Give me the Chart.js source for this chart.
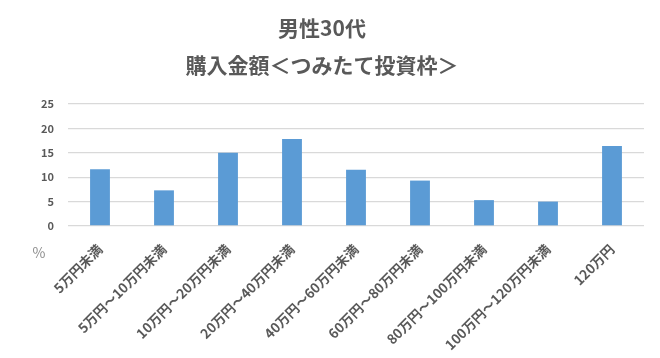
<!DOCTYPE html>
<html>
<head>
<meta charset="utf-8">
<script src="https://cdn.jsdelivr.net/npm/chart.js@4"></script>
<style>
html,body{margin:0;padding:0;background:#fff;}
#wrap{width:660px;height:358px;}
</style>
</head>
<body>
<div id="wrap"><canvas id="c" width="660" height="358"></canvas></div>
<script>
const titleLines = ['男性30代', '購入金額＜つみたて投資枠＞'];
const categories = ['5万円未満', '5万円～10万円未満', '10万円～20万円未満', '20万円～40万円未満', '40万円～60万円未満', '60万円～80万円未満', '80万円～100万円未満', '100万円～120万円未満', '120万円'];
const values = [11.6, 7.3, 15.0, 17.8, 11.5, 9.3, 5.3, 5.0, 16.4];
const yTicks = [0, 5, 10, 15, 20, 25];
const unitLabel = '%';

const FONT = '"Noto Sans CJK JP", "Noto Sans", sans-serif';

const unitPlugin = {
  id: 'unitLabel',
  afterDraw(chart) {
    const ctx = chart.ctx;
    const area = chart.chartArea;
    ctx.save();
    ctx.font = '14px ' + FONT;
    ctx.fillStyle = '#8c8c8c';
    ctx.textAlign = 'center';
    ctx.textBaseline = 'middle';
    ctx.fillText(unitLabel, area.left - 29, area.bottom + 27);
    ctx.restore();
  }
};

new Chart(document.getElementById('c'), {
  type: 'bar',
  data: {
    labels: categories,
    datasets: [{
      data: values,
      backgroundColor: '#5b9bd5',
      borderWidth: 0,
      barPercentage: 0.31,
      categoryPercentage: 1.0
    }]
  },
  options: {
    responsive: false,
    animation: false,
    devicePixelRatio: 1,
    layout: { padding: { left: 0, right: 16, top: 0, bottom: 0 } },
    plugins: {
      legend: { display: false },
      tooltip: { enabled: false },
      title: {
        display: true,
        text: titleLines,
        color: '#595959',
        font: { family: FONT, size: 21, weight: 'bold', lineHeight: 1.76 },
        padding: { top: 10, bottom: 20 }
      }
    },
    scales: {
      x: {
        grid: { display: false },
        border: { display: false },
        ticks: {
          autoSkip: false,
          maxRotation: 45,
          minRotation: 45,
          color: '#595959',
          padding: 7,
          font: { family: FONT, size: 13.5, weight: 'bold' }
        },
        afterFit(scale) { scale.height = 132; }
      },
      y: {
        min: 0,
        max: 25,
        afterBuildTicks(scale) { scale.ticks = yTicks.map(v => ({ value: v })); },
        grid: { color: '#d9d9d9', lineWidth: 1.3, drawTicks: false },
        border: { display: false },
        ticks: {
          color: '#595959',
          padding: 14,
          font: { family: FONT, size: 11, weight: 'bold' }
        },
        afterFit(scale) { scale.width = 68; }
      }
    }
  },
  plugins: [unitPlugin]
});
</script>
</body>
</html>
